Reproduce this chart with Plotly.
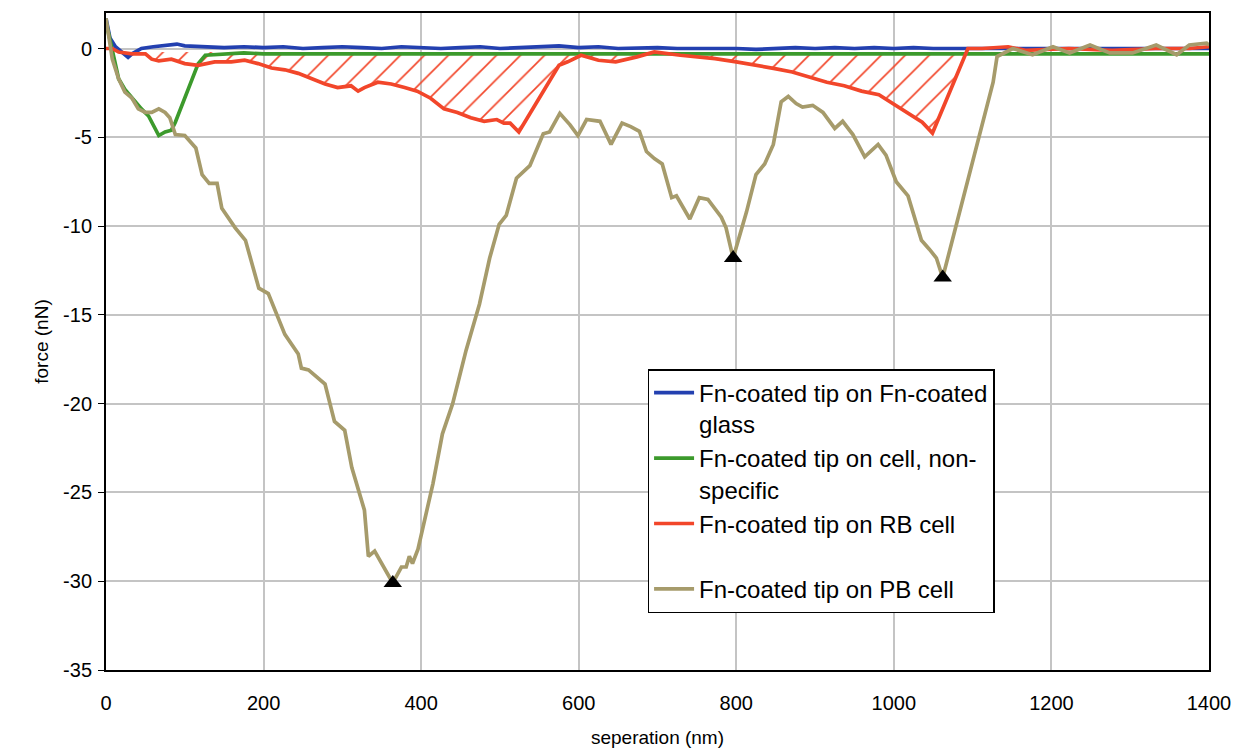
import plotly.graph_objects as go

# ---------------- data ----------------
glass_x = [0, 5, 12, 20, 28, 33, 45, 60, 75, 90, 100, 125, 150, 175, 200, 225, 250, 275, 300,
           325, 350, 375, 400, 425, 450, 475, 500, 525, 550, 575, 600, 625, 650, 675, 700, 725,
           750, 775, 800, 825, 850, 875, 900, 925, 950, 975, 1000, 1025, 1050, 1075, 1100, 1125,
           1150, 1175, 1200, 1225, 1250, 1275, 1300, 1325, 1350, 1375, 1400]
glass_y = [1.7, 0.6, 0.1, -0.2, -0.5, -0.3, 0.0, 0.1, 0.2, 0.25, 0.15, 0.1, 0.05, 0.1, 0.05, 0.1,
           0.0, 0.05, 0.1, 0.05, 0.0, 0.1, 0.05, 0.0, 0.05, 0.1, 0.0, 0.05, 0.1, 0.15, 0.05, 0.1,
           0.0, 0.05, 0.05, 0.0, 0.0, 0.05, 0.0, -0.05, 0.0, 0.05, 0.0, 0.05, 0.0, 0.05, 0.0, 0.05,
           0.0, 0.0, 0.05, 0.0, 0.05, 0.0, 0.05, 0.0, 0.05, 0.0, 0.0, 0.05, 0.0, 0.05, 0.0]

cell_x = [0, 8, 16, 24, 33, 45, 54, 60, 67, 75, 83, 88, 117, 126, 150, 175, 200, 250, 300, 350,
          400, 450, 500, 550, 600, 650, 700, 750, 800, 850, 900, 950, 1000, 1050, 1100, 1150,
          1200, 1250, 1300, 1350, 1400]
cell_y = [1.5, -0.2, -1.7, -2.3, -2.8, -3.4, -3.8, -4.3, -4.9, -4.7, -4.6, -4.15, -0.85, -0.38,
          -0.3, -0.25, -0.3, -0.3, -0.25, -0.3, -0.3, -0.25, -0.3, -0.3, -0.25, -0.3, -0.3,
          -0.25, -0.3, -0.3, -0.25, -0.3, -0.3, -0.25, -0.3, -0.3, -0.25, -0.3, -0.3, -0.25, -0.3]

rb_x = [0, 8, 16, 33, 50, 58, 67, 83, 100, 117, 138, 159, 176, 193, 210, 227, 244, 261, 278, 294,
        311, 320, 328, 345, 362, 379, 395, 412, 429, 446, 463, 480, 496, 505, 513, 524, 564, 575,
        586, 603, 625, 647, 674, 696, 729, 773, 800, 827, 849, 871, 893, 915, 937, 959, 981,
        1003, 1025, 1036, 1049, 1094, 1112, 1145, 1167, 1222, 1277, 1332, 1375, 1400]
rb_y = [0.0, 0.0, -0.2, -0.3, -0.3, -0.6, -0.7, -0.6, -0.85, -0.95, -0.75, -0.75, -0.66, -0.85,
        -1.1, -1.2, -1.4, -1.7, -2.0, -2.2, -2.1, -2.4, -2.2, -1.9, -2.0, -2.2, -2.4, -2.8, -3.4,
        -3.6, -3.9, -4.1, -4.0, -4.2, -4.2, -4.7, -1.7, -0.94, -0.75, -0.38, -0.66, -0.75, -0.47,
        -0.19, -0.38, -0.57, -0.75, -0.94, -1.13, -1.32, -1.6, -1.9, -2.1, -2.4, -2.6, -3.2, -3.8,
        -4.15, -4.76, 0.0, 0.0, 0.1, -0.1, 0.0, -0.1, 0.0, 0.0, 0.1]

pb_x = [0, 3, 8, 16, 24, 33, 41, 50, 58, 67, 75, 81, 88, 100, 108, 114, 122, 131, 141, 147, 164,
        177, 194, 206, 227, 244, 248, 257, 278, 290, 303, 312, 328, 333, 341, 364, 375, 381, 385,
        389, 396, 415, 427, 440, 457, 474, 487, 499, 508, 521, 538, 555, 563, 576, 589, 599, 610,
        627, 641, 655, 666, 677, 686, 696, 706, 718, 724, 741, 753, 764, 781, 787, 796, 813, 825,
        836, 847, 857, 866, 876, 884, 897, 910, 925, 935, 948, 963, 980, 990, 1003, 1018, 1028,
        1035, 1045, 1054, 1062, 1126, 1131, 1151, 1176, 1202, 1223, 1249, 1274, 1303, 1333, 1359,
        1375, 1397, 1400]
pb_y = [1.7, 0.75, -0.6, -1.7, -2.45, -2.8, -3.4, -3.6, -3.6, -3.4, -3.6, -3.9, -4.85, -4.9, -5.3,
        -5.6, -7.1, -7.6, -7.6, -9.0, -10.1, -10.8, -13.5, -13.8, -16.1, -17.2, -18.0, -18.1,
        -18.9, -21.0, -21.5, -23.6, -26.0, -28.6, -28.3, -30.1, -29.2, -29.2, -28.6, -29.0, -28.2,
        -24.5, -21.7, -20.0, -17.0, -14.4, -11.8, -9.9, -9.4, -7.3, -6.6, -4.8, -4.7, -3.65, -4.3,
        -4.9, -4.0, -4.1, -5.4, -4.2, -4.4, -4.66, -5.8, -6.2, -6.5, -8.4, -8.3, -9.6, -8.4, -8.5,
        -9.5, -10.1, -11.8, -9.2, -7.1, -6.5, -5.4, -3.0, -2.7, -3.1, -3.3, -3.2, -3.6, -4.5, -4.1,
        -4.85, -6.1, -5.4, -6.0, -7.5, -8.3, -9.7, -10.8, -11.3, -11.8, -12.9, -1.9, -0.45, 0.0,
        -0.35, 0.1, -0.25, 0.2, -0.25, -0.25, 0.2, -0.35, 0.2, 0.3, 0.2]

peak_x = [364, 796, 1062]
peak_y = [-30.1, -11.8, -12.9]

hatch_end = 1094      # where the RB curve returns to baseline
hatch_base = -0.2

x_ticks = [0, 200, 400, 600, 800, 1000, 1200, 1400]
y_ticks = [0, -5, -10, -15, -20, -25, -30, -35]

names = ["Fn-coated tip on Fn-coated<br>glass",
         "Fn-coated tip on cell, non-<br>specific",
         "Fn-coated tip on RB cell<br> ",
         "Fn-coated tip on PB cell"]
colors = ["#2340b0", "#3c9a2c", "#f2462a", "#a69b6b"]

# ---------------- figure ----------------
fig = go.Figure()

# hatched area between RB curve and baseline
hx = [x for x in rb_x if x <= hatch_end]
hy = [y for x, y in zip(rb_x, rb_y) if x <= hatch_end]
poly_x = hx + [hatch_end, 0]
poly_y = hy + [hatch_base, hatch_base]
fig.add_trace(go.Scatter(
    x=poly_x, y=poly_y, mode="lines", line=dict(width=0, color="rgba(0,0,0,0)"),
    fill="toself", fillcolor="rgba(0,0,0,0)",
    fillpattern=dict(shape="/", fgcolor=colors[2], bgcolor="rgba(0,0,0,0)",
                     fgopacity=1, size=17, solidity=0.1),
    showlegend=False, hoverinfo="skip"))

for xs, ys, nm, c in zip([glass_x, cell_x, rb_x, pb_x], [glass_y, cell_y, rb_y, pb_y],
                         names, colors):
    fig.add_trace(go.Scatter(x=xs, y=ys, mode="lines", name=nm,
                             line=dict(color=c, width=3.7)))

fig.add_trace(go.Scatter(x=peak_x, y=peak_y, mode="markers", showlegend=False,
                         marker=dict(symbol="triangle-up", size=16, color="black")))

font_family = "Liberation Sans, Arial, sans-serif"
fig.update_layout(
    width=1247, height=751,
    margin=dict(l=98, r=46, t=3, b=89),
    paper_bgcolor="white", plot_bgcolor="white",
    font=dict(family=font_family, color="black", size=20),
    legend=dict(x=0.491, y=0.458, xanchor="left", yanchor="top",
                bgcolor="white", bordercolor="black", borderwidth=1.5,
                font=dict(size=24, family=font_family), valign="top",
                itemwidth=40, tracegroupgap=0),
    xaxis=dict(range=[0, 1400], tickvals=x_ticks, ticktext=[str(v) for v in x_ticks],
               showgrid=True, gridcolor="#c4c4c4", gridwidth=2,
               showline=True, linecolor="black", linewidth=2, mirror=True,
               ticks="", zeroline=False, ticklabelstandoff=14,
               title=dict(text="seperation (nm)", font=dict(size=19), standoff=18)),
    yaxis=dict(range=[-35, 2.0], tickvals=y_ticks, ticktext=[str(v) for v in y_ticks],
               showgrid=True, gridcolor="#c4c4c4", gridwidth=2,
               showline=True, linecolor="black", linewidth=2, mirror=True,
               ticks="outside", ticklen=6, tickcolor="black", zeroline=False,
               ticklabelstandoff=2,
               title=dict(text="force (nN)", font=dict(size=19), standoff=9)),
)

fig.write_html("out.html")
